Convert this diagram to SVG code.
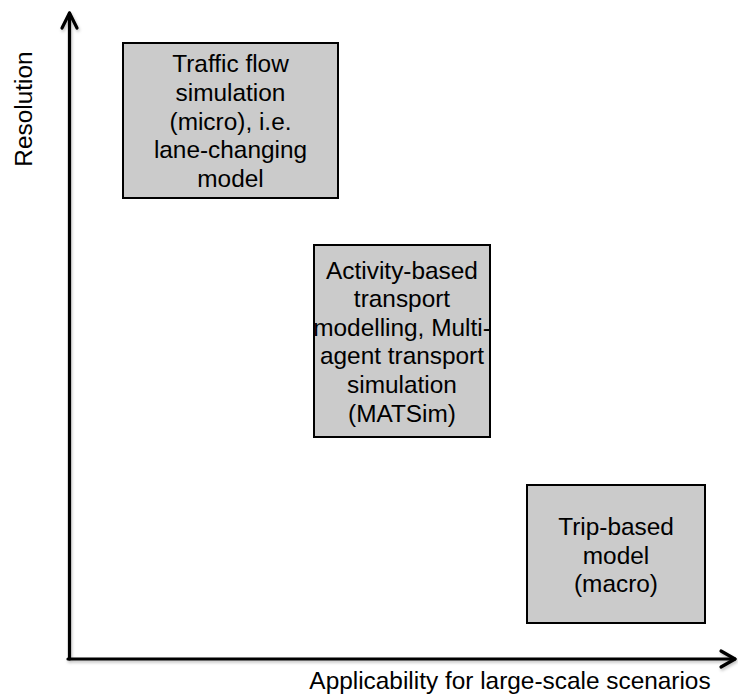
<svg xmlns="http://www.w3.org/2000/svg" width="738" height="695" viewBox="0 0 738 695">
<style>
.box{fill:#cbcbcb;stroke:#000;stroke-width:2}
.t{font-family:"Liberation Sans",Arial,sans-serif;font-size:24.4px;fill:#000;text-anchor:middle}
.ax{fill:none;stroke:#000;stroke-width:3.2;stroke-linecap:round;stroke-linejoin:round}
</style>
<defs>
<filter id="sh" x="-5%" y="-5%" width="110%" height="110%">
<feDropShadow dx="1" dy="2" stdDeviation="1.5" flood-color="#000" flood-opacity="0.25"/>
</filter>
</defs>
<g id="connectors" filter="url(#sh)">
<path class="ax" d="M69.5,659 V13"/>
<path class="ax" d="M62,28 L69.5,13 L77,28"/>
<path class="ax" d="M68,659 H735"/>
<path class="ax" d="M721,651 L735,659 L721,667"/>
</g>
<g id="axis-y-label">
<text class="t" transform="translate(32,109) rotate(-90)">Resolution</text>
</g>
<g id="axis-x-label">
<text class="t" x="510" y="689">Applicability for large-scale scenarios</text>
</g>
<g id="node-micro">
<rect class="box" x="123" y="43" width="215" height="155"/>
<text class="t" x="230.5" y="72">Traffic flow</text>
<text class="t" x="230.5" y="101">simulation</text>
<text class="t" x="230.5" y="130">(micro), i.e.</text>
<text class="t" x="230.5" y="158">lane-changing</text>
<text class="t" x="230.5" y="187">model</text>
</g>
<g id="node-matsim">
<rect class="box" x="314" y="245" width="176" height="192"/>
<text class="t" x="402" y="279">Activity-based</text>
<text class="t" x="402" y="307">transport</text>
<text class="t" x="402" y="336">modelling, Multi-</text>
<text class="t" x="402" y="364">agent transport</text>
<text class="t" x="402" y="393">simulation</text>
<text class="t" x="402" y="422">(MATSim)</text>
</g>
<g id="node-macro">
<rect class="box" x="527" y="485" width="178" height="138"/>
<text class="t" x="616" y="535">Trip-based</text>
<text class="t" x="616" y="564">model</text>
<text class="t" x="616" y="592">(macro)</text>
</g>
</svg>
